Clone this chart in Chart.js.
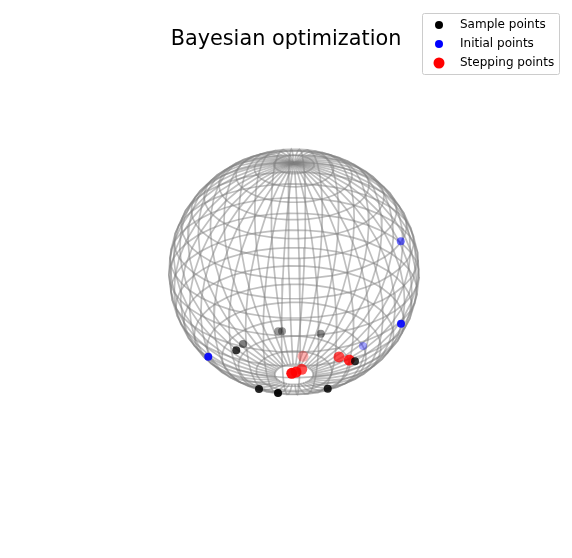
<!DOCTYPE html>
<html>
<head>
<meta charset="utf-8">
<style>
    html, body { margin: 0; padding: 0; background: #fff; }
    #wrap { width: 572px; height: 558px; }
</style>
<script src="https://cdn.jsdelivr.net/npm/chart.js@4/dist/chart.umd.min.js"></script>
</head>
<body>
<div id="wrap"><canvas id="chart" width="572" height="558"></canvas></div>
<script>
// Points, in projected sphere units (centre 0, radius 1)
const sampleX = [-0.280, -0.128, 0.270, -0.462, -0.408, -0.126, -0.096, 0.214, 0.488];
const sampleY = [-0.954, -0.987, -0.952, -0.639, -0.587, -0.484, -0.484, -0.503, -0.728];
const sampleDepth = [0.85, 0.95, 0.85, 0.80, 0.50, 0.40, 0.40, 0.45, 0.80];

const initialX = [-0.686, 0.856, 0.552, 0.854];
const initialY = [-0.691, -0.422, -0.604, 0.250];
const initialDepth = [0.90, 0.90, 0.35, 0.55];

const steppingX = [0.360, 0.442, 0.072, 0.062, 0.016, -0.018];
const steppingY = [-0.693, -0.718, -0.688, -0.794, -0.816, -0.826];
const steppingDepth = [0.70, 0.85, 0.30, 0.70, 0.90, 0.95];

// Wireframe mesh, degrees
const meshColat = [0, 9, 18, 27, 36, 45, 54, 63, 72, 81, 90, 99, 108, 117, 126, 135, 144, 153, 162, 171];
const meshLon = [0, 8.18, 16.36, 24.55, 32.73, 40.91, 49.09, 57.27, 65.45, 73.64, 81.82, 90,
    98.18, 106.36, 114.55, 122.73, 130.91, 139.09, 147.27, 155.45, 163.64, 171.82, 180,
    188.18, 196.36, 204.55, 212.73, 220.91, 229.09, 237.27, 245.45, 253.64, 261.82, 270,
    278.18, 286.36, 294.55, 302.73, 310.91, 319.09, 327.27, 335.45, 343.64, 351.82, 360];

const ELEV = 30;
const AZIM = -60;
const CAM_DIST = 20;
const CENTER_X = 294;
const CENTER_Y = 272;
const RADIUS_X = 125;
const RADIUS_Y = 122.6;
const WIDTH = 572;
const HEIGHT = 558;
const TITLE_SIZE = 20.8;
const TITLE_PAD_TOP = 27;
const TITLE_BLOCK = TITLE_PAD_TOP + TITLE_SIZE * 1.2;

const FONT = '"DejaVu Sans", sans-serif';
const rad = (d) => d * Math.PI / 180;

// The wire mesh is sphere geometry, not read data: project it like the 3D axes did
function project(colat, lon) {
    const x = Math.sin(rad(colat)) * Math.cos(rad(lon));
    const y = Math.sin(rad(colat)) * Math.sin(rad(lon));
    const z = Math.cos(rad(colat));
    const e = rad(ELEV);
    const a = rad(AZIM);
    const depth = x * Math.cos(e) * Math.cos(a) + y * Math.cos(e) * Math.sin(a) + z * Math.sin(e);
    const k = CAM_DIST / (CAM_DIST - depth);
    return {
        x: k * (-x * Math.sin(a) + y * Math.cos(a)),
        y: k * (-x * Math.sin(e) * Math.cos(a) - y * Math.sin(e) * Math.sin(a) + z * Math.cos(e))
    };
}

function wireDataset(points) {
    return {
        label: 'wire',
        data: points,
        showLine: true,
        tension: 0,
        borderColor: 'rgba(128, 128, 128, 0.5)',
        borderWidth: 1.7,
        pointRadius: 0,
        order: 2
    };
}

function pointDataset(label, rgb, xs, ys, depths, radius) {
    return {
        label: label,
        data: xs.map((x, i) => ({ x: x, y: ys[i] })),
        showLine: false,
        pointRadius: radius,
        pointBorderWidth: 0,
        pointBackgroundColor: depths.map((d) => `rgba(${rgb}, ${d})`),
        order: 1
    };
}

function markerCanvas(color, radius) {
    const c = document.createElement('canvas');
    c.width = 16;
    c.height = 16;
    const g = c.getContext('2d');
    g.fillStyle = color;
    g.beginPath();
    g.arc(8, 8, radius, 0, Math.PI * 2);
    g.fill();
    return c;
}

const legendItems = [
    { text: 'Sample points', pointStyle: markerCanvas('#000', 4) },
    { text: 'Initial points', pointStyle: markerCanvas('#00f', 4) },
    { text: 'Stepping points', pointStyle: markerCanvas('#f00', 5.5) }
];

const datasets = [
    pointDataset('Sample points', '0, 0, 0', sampleX, sampleY, sampleDepth, 4),
    pointDataset('Initial points', '0, 0, 255', initialX, initialY, initialDepth, 4),
    pointDataset('Stepping points', '255, 0, 0', steppingX, steppingY, steppingDepth, 5.5)
];
meshLon.slice(0, -1).forEach((lon) => {
    datasets.push(wireDataset(meshColat.map((colat) => project(colat, lon))));
});
meshColat.slice(1).forEach((colat) => {
    datasets.push(wireDataset(meshLon.map((lon) => project(colat, lon))));
});

// Moves the legend to the top right corner and draws its frame
const legendBox = {
    id: 'legendBox',
    afterLayout(chart) {
        chart.legend.left = 417;
        chart.legend.top = 12;
    },
    beforeDraw(chart) {
        const ctx = chart.ctx;
        ctx.save();
        ctx.strokeStyle = '#cccccc';
        ctx.lineWidth = 1;
        ctx.beginPath();
        ctx.roundRect(422.5, 13.5, 137, 61, 2);
        ctx.stroke();
        ctx.restore();
    }
};

new Chart(document.getElementById('chart'), {
    type: 'scatter',
    data: { datasets: datasets },
    plugins: [legendBox],
    options: {
        responsive: false,
        animation: false,
        layout: { padding: 0, autoPadding: false },
        scales: {
            x: {
                display: false,
                min: -CENTER_X / RADIUS_X,
                max: (WIDTH - CENTER_X) / RADIUS_X
            },
            y: {
                display: false,
                min: -(HEIGHT - CENTER_Y) / RADIUS_Y,
                max: (CENTER_Y - TITLE_BLOCK) / RADIUS_Y
            }
        },
        plugins: {
            tooltip: { enabled: false },
            title: {
                display: true,
                text: 'Bayesian optimization',
                color: '#000',
                font: { family: FONT, size: TITLE_SIZE, weight: 'normal' },
                padding: { top: TITLE_PAD_TOP, bottom: 0 }
            },
            legend: {
                position: 'chartArea',
                align: 'start',
                labels: {
                    usePointStyle: true,
                    pointStyleWidth: 30,
                    color: '#000',
                    font: { family: FONT, size: 12 },
                    padding: 7,
                    generateLabels: () => legendItems.map((item) => ({
                        text: item.text,
                        pointStyle: item.pointStyle,
                        fontColor: '#000',
                        lineWidth: 0,
                        hidden: false
                    }))
                }
            }
        }
    }
});
</script>
</body>
</html>
